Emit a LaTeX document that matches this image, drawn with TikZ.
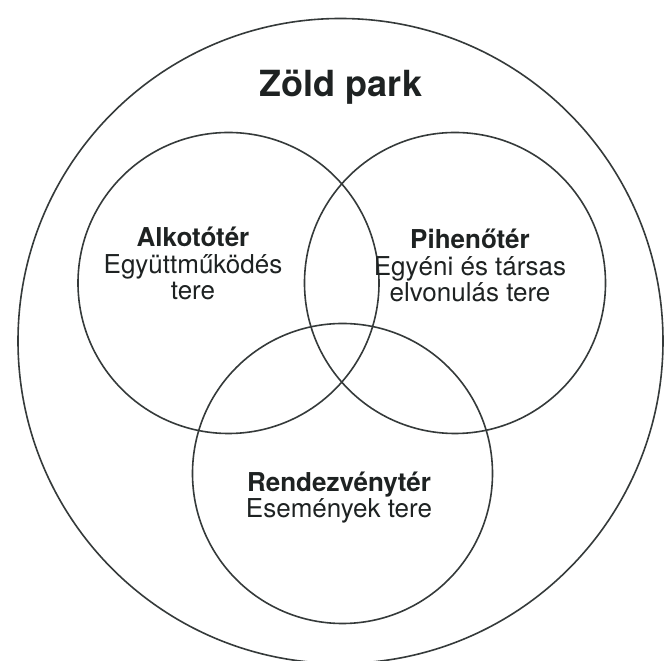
\documentclass[tikz,border=0pt]{standalone}
\usepackage{fontspec}
\setmainfont{TeX Gyre Heros}
\usepackage{xcolor}
\usepackage{tikz}
\usetikzlibrary{shapes,positioning}

\definecolor{ringgray}{HTML}{353A3A}
\definecolor{textgray}{HTML}{1E2222}

\begin{document}
\begin{tikzpicture}[x=1pt,y=1pt]
      \tikzstyle{every node}=[text=textgray]
      \tikzstyle{ring}=[circle,draw=ringgray,line width=1.6pt,inner sep=0pt]
      \tikzstyle{label}=[align=center,anchor=base,font=\fontsize{26}{26.5}\selectfont]

      \useasboundingbox (0,0) rectangle (665,661);

      % park and the three spaces
      \node[ring,minimum size=645pt] (park) at (340.5,320) {};
      \node[ring,minimum size=301pt] (alko) at (228.5,378) {};
      \node[ring,minimum size=301pt] (pihe) at (455,378) {};
      \node[ring,minimum size=300pt] (rend) at (342.5,187.5) {};

      % texts (base = last line)
      \node[anchor=base,font=\fontsize{36}{40}\selectfont\bfseries] (title) at (341,564) {Zöld park};
      \node[label] (alkotext) at (193,361) {\textbf{Alkotótér}\\Együttműködés\\tere};
      \node[label] (pihetext) at (470,359) {\textbf{Pihenőtér}\\Egyéni és társas\\elvonulás tere};
      \node[label] (rendtext) at (339,143) {\textbf{Rendezvénytér}\\Események tere};
    \end{tikzpicture}
\end{document}
